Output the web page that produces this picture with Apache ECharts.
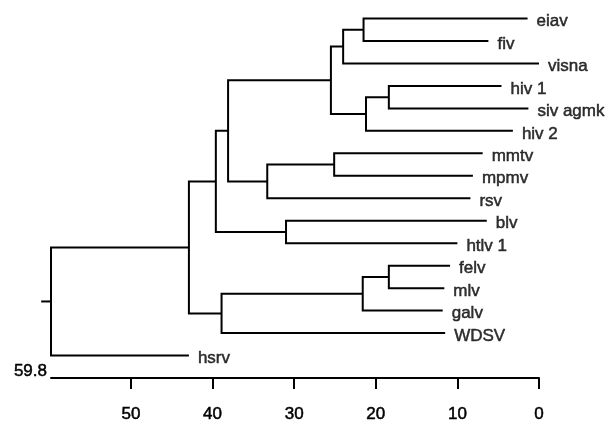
<!DOCTYPE html>
<html>
<head>
<meta charset="utf-8">
<script src="https://cdn.jsdelivr.net/npm/echarts@6/dist/echarts.min.js"></script>
<style>
  html, body { margin: 0; padding: 0; background: #fff; }
  #chart { width: 611px; height: 423px; }
</style>
</head>
<body>
<div id="chart"></div>
<script>
// leaves, top to bottom, and where each branch ends on the distance scale
const leafNames = ['eiav', 'fiv', 'visna', 'hiv 1', 'siv agmk', 'hiv 2', 'mmtv', 'mpmv', 'rsv', 'blv', 'htlv 1', 'felv', 'mlv', 'galv', 'WDSV', 'hsrv']
const leafDistances = [1.4, 6.2, 0, 4.6, 1.3, 3.2, 6.9, 8.1, 8.4, 6.4, 10.0, 10.9, 11.6, 11.8, 11.5, 42.9]

// internal nodes: children (leaf name or 'nX') and joining distance
const nodeChildren = [
  ['eiav', 'fiv'], ['n0', 'visna'], ['hiv 1', 'siv agmk'], ['n2', 'hiv 2'], ['n1', 'n3'],
  ['mmtv', 'mpmv'], ['n5', 'rsv'], ['n4', 'n6'], ['blv', 'htlv 1'], ['n7', 'n8'],
  ['felv', 'mlv'], ['n10', 'galv'], ['n11', 'WDSV'], ['n9', 'n12'], ['n13', 'hsrv']
]
const nodeDistances = [21.5, 24.0, 18.4, 21.2, 25.5, 25.1, 33.3, 38.1, 31.0, 39.6, 18.4, 21.6, 38.9, 42.9, 59.8]
const rootStubEnd = 61.0

const tickValues = [0, 10, 20, 30, 40, 50]
const axisEndLabel = '59.8'

// resolve positions: leaf row = index, node row = mean of its children
const pos = {}
leafNames.forEach((n, i) => { pos[n] = [leafDistances[i], i] })
const branches = []
nodeChildren.forEach((kids, i) => {
  const a = pos[kids[0]]
  const b = pos[kids[1]]
  const h = nodeDistances[i]
  pos['n' + i] = [h, (a[1] + b[1]) / 2]
  // [childA x, childA y, node x, childB y, childB x]
  branches.push([a[0], a[1], h, b[1], b[0]])
})
const root = pos['n' + (nodeChildren.length - 1)]

const chart = echarts.init(document.getElementById('chart'))
const font = 'Helvetica, Arial, "Liberation Sans", sans-serif'
const ink = '#000'
// scanned look: a thin outline makes the text a bit heavier
const textLook = { color: ink, fontSize: 17, fontFamily: font, textBorderColor: ink, textBorderWidth: 0.5 }

chart.setOption({
  animation: false,
  grid: { left: 51, right: 72, top: 18.5, bottom: 45, outerBoundsMode: 'none' },
  xAxis: {
    type: 'value',
    min: 0,
    max: 59.8,
    inverse: true,
    name: axisEndLabel,
    nameLocation: 'end',
    nameGap: 4,
    nameTextStyle: Object.assign({ verticalAlign: 'bottom', lineHeight: 14 }, textLook),
    axisLine: { show: true, onZero: false, lineStyle: { color: ink, width: 2 } },
    axisTick: { show: true, inside: false, length: 11, customValues: tickValues, lineStyle: { color: ink, width: 2 } },
    axisLabel: Object.assign({ customValues: tickValues, margin: 28 }, textLook),
    splitLine: { show: false }
  },
  yAxis: {
    type: 'value',
    min: 0,
    max: 16,
    inverse: true,
    show: false
  },
  series: [
    {
      type: 'custom',
      clip: false,
      data: branches,
      renderItem: (params, api) => {
        const p1 = api.coord([api.value(0), api.value(1)])
        const p2 = api.coord([api.value(2), api.value(1)])
        const p3 = api.coord([api.value(2), api.value(3)])
        const p4 = api.coord([api.value(4), api.value(3)])
        return {
          type: 'polyline',
          shape: { points: [p1, p2, p3, p4] },
          style: { stroke: ink, lineWidth: 2, fill: null }
        }
      }
    },
    {
      type: 'custom',
      clip: false,
      data: [[root[0], root[1], rootStubEnd]],
      renderItem: (params, api) => {
        const p1 = api.coord([api.value(0), api.value(1)])
        const p2 = api.coord([api.value(2), api.value(1)])
        return {
          type: 'line',
          shape: { x1: p1[0], y1: p1[1], x2: p2[0], y2: p2[1] },
          style: { stroke: ink, lineWidth: 2 }
        }
      }
    },
    {
      type: 'scatter',
      symbolSize: 0,
      data: leafNames.map((n, i) => ({ name: n, value: [leafDistances[i], i] })),
      label: Object.assign({
        show: true,
        position: 'right',
        distance: 9,
        offset: [0, 3],
        formatter: '{b}'
      }, textLook),
      emphasis: { disabled: true }
    }
  ]
})
</script>
</body>
</html>
